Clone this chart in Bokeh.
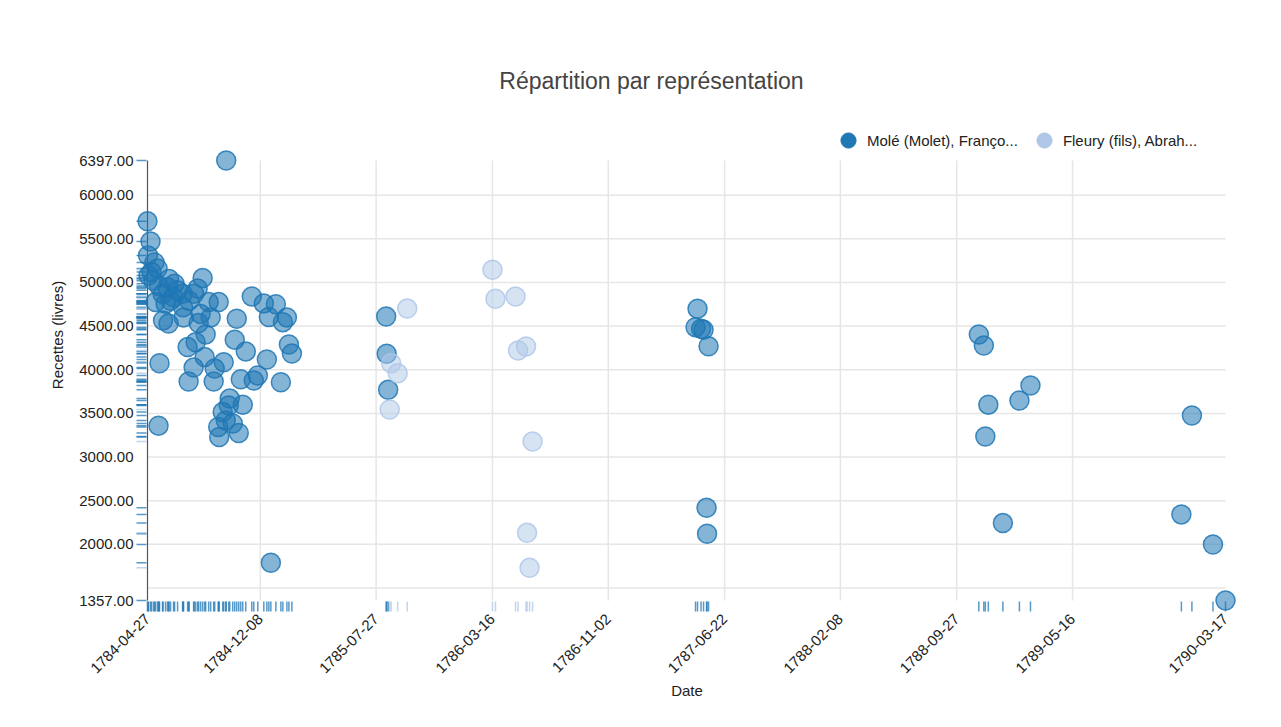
import numpy as np
from math import pi
from bokeh.plotting import figure
from bokeh.models import (Range1d, FixedTicker, PrintfTickFormatter, DatetimeTickFormatter,
                          Label, Legend, LegendItem)
from bokeh.embed import file_html
from bokeh.resources import INLINE

# ---------------- data ----------------
title_text = "Répartition par représentation"
series_names = ["Molé (Molet), Franço...", "Fleury (fils), Abrah..."]
series_colors = ["#1f77b4", "#aec7e8"]

mole_dates = [
    "1784-04-27", "1784-04-28", "1784-04-29", "1784-05-03", "1784-05-05", "1784-05-09",
    "1784-05-11", "1784-05-13", "1784-05-17", "1784-05-19", "1784-05-20", "1784-05-21",
    "1784-05-27", "1784-05-28", "1784-06-02", "1784-06-06", "1784-06-08", "1784-06-09",
    "1784-06-12", "1784-06-18", "1784-06-20", "1784-06-26", "1784-07-06", "1784-07-07",
    "1784-07-08", "1784-07-16", "1784-07-18", "1784-07-19", "1784-07-28", "1784-07-29",
    "1784-08-01", "1784-08-05", "1784-08-07", "1784-08-11", "1784-08-15", "1784-08-19",
    "1784-08-21", "1784-08-27", "1784-08-31", "1784-09-06", "1784-09-08", "1784-09-15",
    "1784-09-16", "1784-09-17", "1784-09-24", "1784-09-26", "1784-09-30", "1784-10-01",
    "1784-10-06", "1784-10-08", "1784-10-14", "1784-10-18", "1784-10-22", "1784-10-26",
    "1784-10-30", "1784-11-03", "1784-11-09", "1784-11-21", "1784-11-25", "1784-12-03",
    "1784-12-15", "1784-12-21", "1784-12-25", "1784-12-29", "1785-01-08", "1785-01-18",
    "1785-01-22", "1785-01-30", "1785-02-03", "1785-02-09",
    "1785-08-16", "1785-08-17", "1785-08-20",
    "1787-04-25", "1787-04-29", "1787-05-06", "1787-05-11", "1787-05-17", "1787-05-18",
    "1787-05-21",
    "1788-11-10", "1788-11-20", "1788-11-23", "1788-11-29", "1788-12-28", "1789-01-30",
    "1789-02-21",
    "1789-12-19", "1790-01-09", "1790-02-20", "1790-03-17",
]
mole_values = [
    5700, 5310, 5080, 5470, 5120, 5020,
    5230, 4775, 5160, 3360, 4960, 4075,
    4870, 4565, 4757, 4945, 4530, 5040,
    4790, 4830, 4985, 4910, 4870, 4715,
    4600, 4260, 3865, 4790, 4025, 4870,
    4315, 4930, 4535, 4640, 5050, 4145,
    4405, 4775, 4600, 3865, 4015, 3345,
    4775, 3230, 3515, 4085, 3420, 6397,
    3590, 3670, 3385, 4345, 4585, 3275,
    3890, 3600, 4210, 4840, 3877, 3935,
    4760, 4117, 4605, 1790, 4750, 3857,
    4545, 4600, 4290, 4185,
    4610, 4183, 3770,
    4488, 4700, 4469, 4458, 2419, 2121,
    4270,
    4404, 4278, 3235, 3600, 2244, 3648,
    3820,
    2343, 3476, 1998, 1357,
]

fleury_dates = [
    "1785-08-23", "1785-08-26", "1785-09-08", "1785-09-27",
    "1786-03-16", "1786-03-22", "1786-05-01", "1786-05-06", "1786-05-22",
    "1786-05-24", "1786-05-29", "1786-06-04",
]
fleury_values = [
    3545, 4075, 3960, 4702,
    5145, 4813, 4839, 4220, 4266,
    2132, 1732, 3178,
]

x_tick_labels = ["1784-12-08", "1785-07-27", "1786-03-16", "1786-11-02",
                 "1787-06-22", "1788-02-08", "1788-09-27", "1789-05-16"]
y_ticks = [2000, 2500, 3000, 3500, 4000, 4500, 5000, 5500, 6000]
y_grid = [1500, 2000, 2500, 3000, 3500, 4000, 4500, 5000, 5500, 6000]

# ---------------- helpers ----------------
DAY = 86400000.0


def to_ms(s):
    return float((np.datetime64(s, "D") - np.datetime64("1970-01-01", "D")).astype(np.int64)) * DAY


mole_x = [to_ms(d) for d in mole_dates]
fleury_x = [to_ms(d) for d in fleury_dates]
all_x = mole_x + fleury_x
all_y = mole_values + fleury_values
x_min, x_max = min(all_x), max(all_x)
y_min, y_max = min(all_y), max(all_y)

# layout constants (pixels)
DOMAIN_W = 1078.0
DOMAIN_H = 440.0
PXD = DOMAIN_W / ((x_max - x_min) / DAY)   # px per day
PXV = DOMAIN_H / (y_max - y_min)           # px per livre


def dx(px):
    return px / PXD * DAY


def dy(px):
    return px / PXV


W, H = 1270, 715
p = figure(width=W, height=H, x_axis_type="datetime",
           output_backend="svg", toolbar_location=None,
           x_range=Range1d(x_min - dx(12), x_max + dx(13)),
           y_range=Range1d(y_min - dy(14), y_max + dy(105)),
           min_border_left=135, min_border_right=W - 1238,
           min_border_top=55, min_border_bottom=H - 614)
p.outline_line_color = None
p.xgrid.visible = False
p.ygrid.visible = False
p.background_fill_color = "white"
p.border_fill_color = "white"

FONT = "Liberation Sans"
GRID = "#e6e6e6"

# grid lines
p.segment(x0=[x_min] * len(y_grid), y0=y_grid, x1=[x_max] * len(y_grid), y1=y_grid,
          line_color=GRID, line_width=1.5)
vt = [to_ms(d) for d in x_tick_labels]
p.segment(x0=vt, y0=[y_min] * len(vt), x1=vt, y1=[y_max] * len(vt),
          line_color=GRID, line_width=1.5)

# y axis line
p.segment(x0=[x_min], y0=[y_min], x1=[x_min], y1=[y_max], line_color="#555555", line_width=1.2)

# rugs
for xs, ys, c in [(mole_x, mole_values, series_colors[0]), (fleury_x, fleury_values, series_colors[1])]:
    p.segment(x0=xs, y0=[y_min - dy(1)] * len(xs), x1=xs, y1=[y_min - dy(11)] * len(xs),
              line_color=c, line_alpha=0.75, line_width=1.5)
    p.segment(x0=[x_min - dx(11)] * len(ys), y0=ys, x1=[x_min - dx(1)] * len(ys), y1=ys,
              line_color=c, line_alpha=0.75, line_width=1.5)

# points
p.scatter(mole_x, mole_values, size=19, fill_color=series_colors[0], fill_alpha=0.55,
          line_color=series_colors[0], line_alpha=0.85, line_width=1.5)
p.scatter(fleury_x, fleury_values, size=19, fill_color=series_colors[1], fill_alpha=0.5,
          line_color=series_colors[1], line_alpha=0.85, line_width=1.5)

# legend (dummy renderers with solid colours)
leg_r = [p.scatter([np.nan], [np.nan], size=16, fill_color=c, line_color=c) for c in series_colors]
frame_h = 614 - 55
G = 38
legend = Legend(items=[LegendItem(label=n, renderers=[r]) for n, r in zip(series_names, leg_r)],
                orientation="horizontal", location=(829 - 135, frame_h - G - (121 - 55)),
                glyph_width=G, glyph_height=G, label_standoff=0, spacing=7,
                padding=0, margin=0, border_line_color=None, background_fill_alpha=0,
                label_text_font_size="15px", label_text_font=FONT, label_text_color="#222222")
p.add_layout(legend)

# axes
p.xaxis.ticker = FixedTicker(ticks=[x_min] + [to_ms(d) for d in x_tick_labels] + [x_max])
fmt = "%Y-%m-%d"
p.xaxis.formatter = DatetimeTickFormatter(days=fmt, months=fmt, years=fmt, hours=fmt,
                                          hourmin=fmt, minutes=fmt, minsec=fmt, seconds=fmt,
                                          milliseconds=fmt, microseconds=fmt,
                                          strip_leading_zeros=False)
p.xaxis.major_label_orientation = pi / 4
p.yaxis.ticker = FixedTicker(ticks=[y_min] + y_ticks + [y_max])
p.yaxis.formatter = PrintfTickFormatter(format="%.2f")
for ax in (p.xaxis[0], p.yaxis[0]):
    ax.axis_line_color = None
    ax.major_tick_line_color = None
    ax.minor_tick_line_color = None
    ax.major_tick_out = 0
    ax.major_tick_in = 0
    ax.major_label_text_font = FONT
    ax.major_label_text_color = "#222222"
    ax.axis_label_text_font = FONT
    ax.axis_label_text_font_style = "normal"
    ax.axis_label_text_color = "#222222"
    ax.axis_label_text_font_size = "15px"
    ax.major_label_standoff = 2
p.xaxis.major_label_text_font_size = "15px"
p.yaxis.major_label_text_font_size = "15px"
p.xaxis.axis_label = "Date"
p.yaxis.axis_label = "Recettes (livres)"
p.xaxis.axis_label_standoff = 1
p.yaxis.axis_label_standoff = 10

# title (inside the frame area, above the data)
p.add_layout(Label(x=x_min + dx(504), y=y_max + dy(80), text=title_text, text_align="center",
                   text_baseline="middle", text_font=FONT, text_font_size="23px",
                   text_color="#444444"))

open("out.html", "w").write(file_html(p, INLINE))
